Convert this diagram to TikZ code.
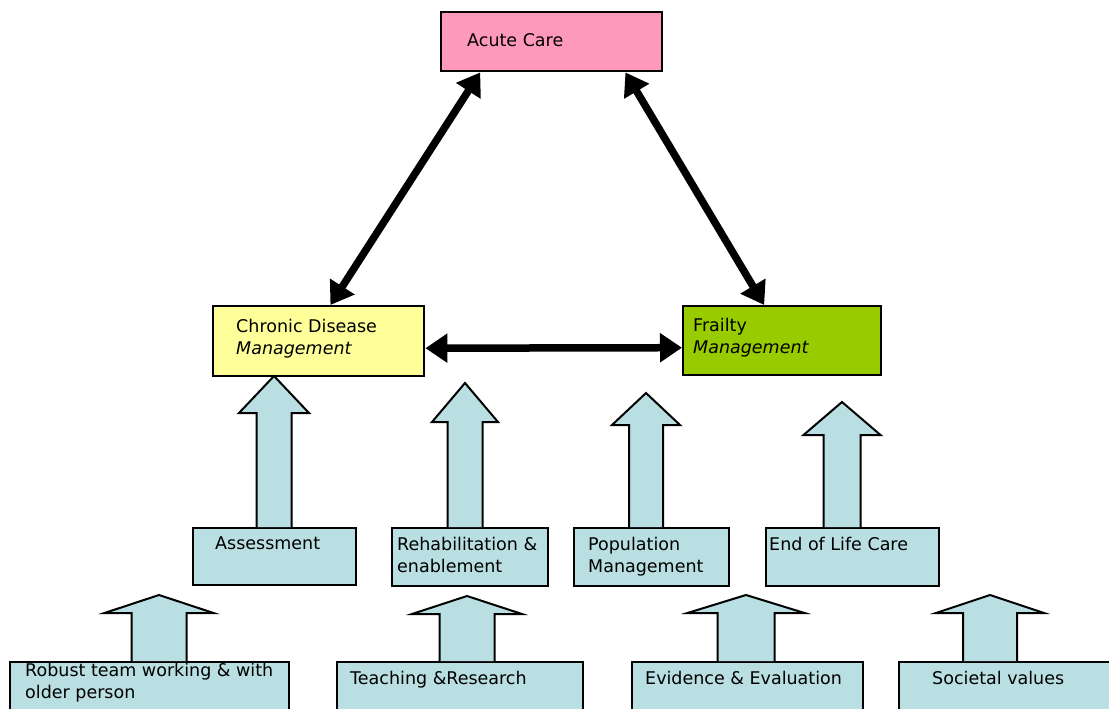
\documentclass[tikz,border=0pt]{standalone}
\usepackage{fontspec}
\setmainfont{DejaVu Sans}
\usetikzlibrary{arrows.meta,calc}

\definecolor{acutepink}{RGB}{255,153,187}
\definecolor{chronicyellow}{RGB}{255,255,153}
\definecolor{frailgreen}{RGB}{153,204,0}
\definecolor{liftblue}{RGB}{185,223,226}

\newcommand{\boxfont}{\fontsize{17.5}{22}\selectfont}

\tikzset{
  panel/.style={draw, line width=2.4pt, anchor=north west, inner sep=0pt},
  note/.style={anchor=north west, inner sep=0pt, align=left, font=\boxfont},
  link/.style={line width=7.5pt, {Triangle[length=22pt,width=28pt]}-{Triangle[length=22pt,width=28pt]}},
  lift/.style={draw, line width=2pt, fill=liftblue, line join=miter},
}

% block arrow: from node, x, tip y, shaft half, head half, head length
\newcommand{\liftarrow}[6]{%
  \filldraw [lift] ({#2-#4},0 |- #1.north) -- ({#2-#4},{#3+#6}) -- ({#2-#5},{#3+#6})
    -- (#2,#3) -- ({#2+#5},{#3+#6}) -- ({#2+#4},{#3+#6}) -- ({#2+#4},0 |- #1.north);}

\begin{document}
\begin{tikzpicture}[x=1pt,y=-1pt]
  \useasboundingbox (0,0) rectangle (1109,709);

  % top row
  \node (acute) [panel, fill=acutepink, minimum width=221pt, minimum height=59pt,
    label={[note, xshift=27pt, yshift=-22pt]north west:Acute Care}] at (440,11) {};
  \node (chronic) [panel, fill=chronicyellow, minimum width=211pt, minimum height=70pt,
    label={[note, xshift=24pt, yshift=-14pt]north west:{Chronic Disease\\\textit{Management}}}] at (212,305) {};
  \node (frailty) [panel, fill=frailgreen, minimum width=198pt, minimum height=69pt,
    label={[note, xshift=11pt, yshift=-13pt]north west:{Frailty\\\textit{Management}}}] at (682,305) {};

  % middle row
  \node (assess) [panel, fill=liftblue, minimum width=163pt, minimum height=57pt,
    label={[note, xshift=23pt, yshift=-10pt]north west:Assessment}] at (192,527) {};
  \node (rehab) [panel, fill=liftblue, minimum width=156pt, minimum height=58pt,
    label={[note, xshift=6pt, yshift=-10pt]north west:{Rehabilitation \&\\enablement}}] at (391,527) {};
  \node (popmgmt) [panel, fill=liftblue, minimum width=155pt, minimum height=58pt,
    label={[note, xshift=15pt, yshift=-10pt]north west:{Population\\Management}}] at (573,527) {};
  \node (endlife) [panel, fill=liftblue, minimum width=173pt, minimum height=58pt,
    label={[note, xshift=4pt, yshift=-10pt]north west:End of Life Care}] at (765,527) {};

  % bottom row
  \node (robust) [panel, fill=liftblue, minimum width=279pt, minimum height=52pt,
    label={[note, xshift=16pt, yshift=-2pt]north west:{Robust team working \& with\\older person}}] at (9,661) {};
  \node (teaching) [panel, fill=liftblue, minimum width=246pt, minimum height=52pt,
    label={[note, xshift=14pt, yshift=-10pt]north west:Teaching \&Research}] at (336,661) {};
  \node (evidence) [panel, fill=liftblue, minimum width=231pt, minimum height=52pt,
    label={[note, xshift=14pt, yshift=-10pt]north west:Evidence \& Evaluation}] at (631,661) {};
  \node (societal) [panel, fill=liftblue, minimum width=220pt, minimum height=52pt,
    label={[note, xshift=34pt, yshift=-10pt]north west:Societal values}] at (898,661) {};

  % triangle of links
  \draw [link] ($(acute.south west)!0.18!(acute.south east)$) -- ($(chronic.north west)!0.555!(chronic.north east)$);
  \draw [link] ($(acute.south west)!0.83!(acute.south east)$) -- ($(frailty.north west)!0.41!(frailty.north east)$);
  \draw [link] ($(chronic.east)+(0,7)$) -- ($(frailty.west)+(0,7)$);

  % block arrows
  \liftarrow{assess}{274}{376}{17.5}{35}{37}
  \liftarrow{rehab}{465}{383}{17.5}{33}{39}
  \liftarrow{popmgmt}{646}{393}{17}{34}{32}
  \liftarrow{endlife}{842}{402}{18.5}{38.5}{33}
  \liftarrow{robust}{159}{595}{27.5}{54.5}{18}
  \liftarrow{teaching}{467}{596}{27.5}{55}{18}
  \liftarrow{evidence}{746}{595}{28.5}{58.5}{18}
  \liftarrow{societal}{990}{595}{27}{54}{18}
\end{tikzpicture}
\end{document}
